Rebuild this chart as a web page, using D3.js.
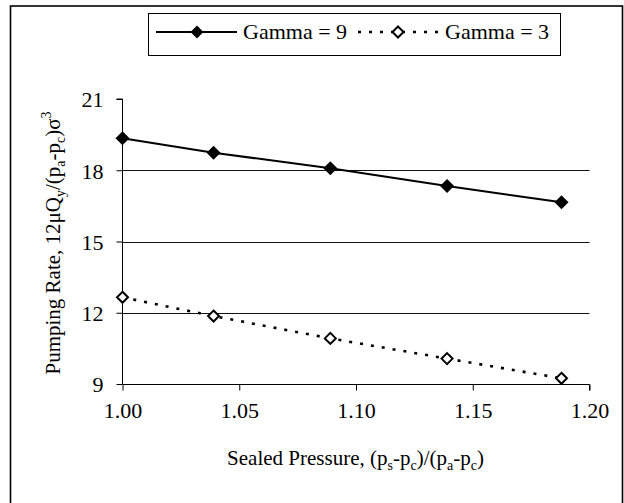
<!DOCTYPE html>
<html>
<head>
<meta charset="utf-8">
<script src="https://cdn.jsdelivr.net/npm/d3@7"></script>
<style>
  body { margin: 0; background: #fff; }
</style>
</head>
<body>
<div id="chart"></div>
<script>

var xValues = [1.000, 1.039, 1.089, 1.139, 1.188];
var gamma9 = [19.35, 18.74, 18.08, 17.34, 16.65];
var gamma3 = [12.65, 11.86, 10.92, 10.07, 9.24];
var xTicks = [1.00, 1.05, 1.10, 1.15, 1.20];
var yTicks = [9, 12, 15, 18, 21];
var gridTicks = [12, 15, 18];

var width = 624, height = 503;
var serif = "Liberation Serif";

var svg = d3.select("#chart")
  .append("svg")
  .attr("width", width)
  .attr("height", height)
  .style("font-family", serif);

// outer frame (bottom edge runs off the picture)
svg.append("rect")
  .attr("x", 10.5)
  .attr("y", 6)
  .attr("width", 612)
  .attr("height", 520)
  .attr("fill", "none")
  .attr("stroke", "#000")
  .attr("stroke-width", 1.6);

var x = d3.scaleLinear().domain([1.00, 1.20]).range([122.5, 589.5]);
var y = d3.scaleLinear().domain([9, 21]).range([384, 99]);

function diamond(r) {
  return "M0," + (-r) + "L" + r + ",0L0," + r + "L" + (-r) + ",0Z";
}

// gridlines
svg.append("g").selectAll("line").data(gridTicks)
  .enter()
  .append("line")
  .attr("x1", x(1.00))
  .attr("x2", x(1.20))
  .attr("y1", function(d) { return Math.round(y(d)) + 0.5; })
  .attr("y2", function(d) { return Math.round(y(d)) + 0.5; })
  .attr("stroke", "#111")
  .attr("stroke-width", 1);

var xAxis = svg.append("g")
  .attr("transform", "translate(0,384.5)")
  .call(d3.axisBottom(x).tickValues(xTicks).tickSize(6).tickPadding(12).tickFormat(d3.format(".2f")));

var yAxis = svg.append("g")
  .attr("transform", "translate(122.5,0)")
  .call(d3.axisLeft(y).tickValues(yTicks).tickSize(6).tickPadding(13).tickFormat(d3.format("d")));

[xAxis, yAxis].forEach(function(a) {
  a.attr("font-family", null).attr("font-size", null);
  a.select(".domain").attr("stroke", "#000").attr("stroke-width", 1);
  a.selectAll(".tick line").attr("stroke", "#000");
  a.selectAll(".tick text")
    .style("font-family", serif)
    .style("font-size", "22px")
    .attr("fill", "#000");
});
xAxis.select(".domain").attr("d", "M" + x(1.00) + ",0H" + x(1.20) + "V6");
yAxis.select(".domain").attr("d", "M-6," + y(21) + "H0V" + y(9));
yAxis.selectAll(".tick text").attr("dy", "0.36em");

// series lines
var line = d3.line()
  .x(function(d, i) { return x(xValues[i]); })
  .y(function(d) { return y(d); });

svg.append("path")
  .datum(gamma9)
  .attr("d", line)
  .attr("fill", "none")
  .attr("stroke", "#000")
  .attr("stroke-width", 2);

svg.append("path")
  .datum(gamma3)
  .attr("d", line)
  .attr("fill", "none")
  .attr("stroke", "#000")
  .attr("stroke-width", 2.6)
  .attr("stroke-dasharray", "3,8");

svg.append("g").selectAll("path").data(gamma9)
  .enter()
  .append("path")
  .attr("d", diamond(7))
  .attr("transform", function(d, i) { return "translate(" + x(xValues[i]) + "," + y(d) + ")"; })
  .attr("fill", "#000");

svg.append("g").selectAll("path").data(gamma3)
  .enter()
  .append("path")
  .attr("d", diamond(5.5))
  .attr("transform", function(d, i) { return "translate(" + x(xValues[i]) + "," + y(d) + ")"; })
  .attr("fill", "#fff")
  .attr("stroke", "#000")
  .attr("stroke-width", 2);

// axis titles
var xt = svg.append("text")
  .attr("x", 355.5)
  .attr("y", 465)
  .attr("text-anchor", "middle")
  .style("font-family", serif)
  .style("font-size", "21px");
xt.append("tspan").text("Sealed Pressure, (p");
xt.append("tspan").attr("dy", 5).style("font-size", "14px").text("s");
xt.append("tspan").attr("dy", -5).text("-p");
xt.append("tspan").attr("dy", 5).style("font-size", "14px").text("c");
xt.append("tspan").attr("dy", -5).text(")/(p");
xt.append("tspan").attr("dy", 5).style("font-size", "14px").text("a");
xt.append("tspan").attr("dy", -5).text("-p");
xt.append("tspan").attr("dy", 5).style("font-size", "14px").text("c");
xt.append("tspan").attr("dy", -5).text(")");

var yt = svg.append("text")
  .attr("transform", "translate(60,243)rotate(-90)")
  .attr("text-anchor", "middle")
  .style("font-family", serif)
  .style("font-size", "21px");
yt.append("tspan").text("Pumping Rate, 12\u03bcQ");
yt.append("tspan").attr("dy", 5).style("font-size", "14px").text("y");
yt.append("tspan").attr("dy", -5).text("/(p");
yt.append("tspan").attr("dy", 5).style("font-size", "14px").text("a");
yt.append("tspan").attr("dy", -5).text("-p");
yt.append("tspan").attr("dy", 5).style("font-size", "14px").text("c");
yt.append("tspan").attr("dy", -5).text(")\u03c3");
yt.append("tspan").attr("dy", -9).style("font-size", "14px").text("3");

// legend
var legend = svg.append("g").attr("class", "legend");

legend.append("rect")
  .attr("x", 148.5)
  .attr("y", 13.5)
  .attr("width", 412)
  .attr("height", 42)
  .attr("fill", "#fff")
  .attr("stroke", "#000")
  .attr("stroke-width", 1);

legend.append("line")
  .attr("x1", 156).attr("x2", 237)
  .attr("y1", 32).attr("y2", 32)
  .attr("stroke", "#000")
  .attr("stroke-width", 2);
legend.append("path")
  .attr("d", diamond(6.5))
  .attr("transform", "translate(197,32)")
  .attr("fill", "#000");
legend.append("text")
  .attr("x", 243)
  .attr("y", 39)
  .style("font-family", serif)
  .style("font-size", "22px")
  .text("Gamma = 9");

legend.append("line")
  .attr("x1", 358).attr("x2", 438)
  .attr("y1", 32).attr("y2", 32)
  .attr("stroke", "#000")
  .attr("stroke-width", 2.6)
  .attr("stroke-dasharray", "3,8");
legend.append("path")
  .attr("d", diamond(5.5))
  .attr("transform", "translate(398,32)")
  .attr("fill", "#fff")
  .attr("stroke", "#000")
  .attr("stroke-width", 2);
legend.append("text")
  .attr("x", 445)
  .attr("y", 39)
  .style("font-family", serif)
  .style("font-size", "22px")
  .text("Gamma = 3");

</script>
</body>
</html>
